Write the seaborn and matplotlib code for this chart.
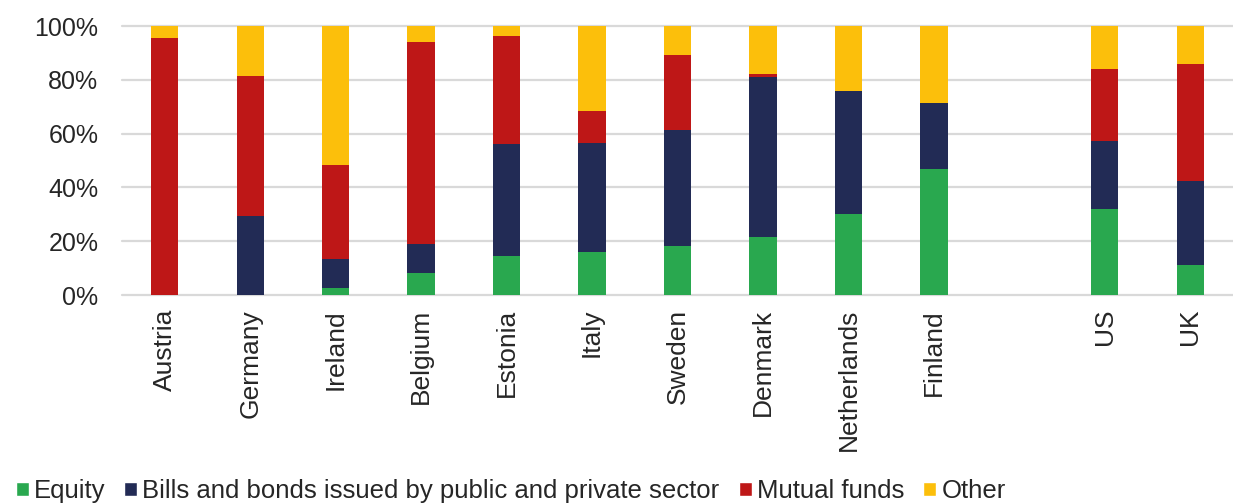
import matplotlib
matplotlib.use("Agg")
import matplotlib.pyplot as plt
from matplotlib.patches import Patch
from matplotlib.ticker import FuncFormatter
import seaborn as sns
import pandas as pd
import numpy as np

# data (shares in %)
countries = ["Austria", "Germany", "Ireland", "Belgium", "Estonia", "Italy", "Sweden",
             "Denmark", "Netherlands", "Finland", "", "US", "UK"]
equity = [0.0, 0.0, 2.5, 8.1, 14.4, 15.9, 18.1, 21.4, 30.3, 46.7, np.nan, 31.9, 11.0]
bonds = [0.0, 29.5, 10.8, 10.9, 41.8, 40.8, 43.4, 59.8, 45.4, 24.9, np.nan, 25.5, 31.4]
mutual = [95.7, 51.9, 35.1, 75.2, 40.2, 11.7, 27.7, 1.0, 0.0, 0.0, np.nan, 26.8, 43.6]
other = [4.3, 18.6, 51.6, 5.8, 3.6, 31.6, 10.8, 17.8, 24.3, 28.4, np.nan, 15.8, 14.0]

series = ["Equity", "Bills and bonds issued by public and private sector", "Mutual funds", "Other"]
colors = ["#29A84F", "#222B55", "#BE1717", "#FCBF0B"]

df = pd.DataFrame({"country": countries, "Equity": equity, series[1]: bonds,
                   "Mutual funds": mutual, "Other": other})

sns.set_theme(style="white")
plt.rcParams["font.family"] = ["Liberation Sans", "DejaVu Sans"]

fig = plt.figure(figsize=(12.33, 5.03), dpi=100)
ax = fig.add_axes([0.099, 0.4135, 0.901, 0.5345])

# stacked bars: draw cumulative totals from the top segment down
cum = df[series].cumsum(axis=1)
for i in range(len(series) - 1, -1, -1):
    sns.barplot(x=df["country"], y=cum[series[i]], order=countries, color=colors[i],
                width=0.32, ax=ax, saturation=1, edgecolor="none", linewidth=0)

ax.set_ylim(0, 100)
ax.set_xlim(-0.5, len(countries) - 0.5)
ax.set_yticks([0, 20, 40, 60, 80, 100])
ax.yaxis.set_major_formatter(FuncFormatter(lambda v, p: f"{v:.0f}%"))
ax.set_xlabel("")
ax.set_ylabel("")
ax.set_axisbelow(True)
ax.grid(axis="y", color="#D9D9D9", linewidth=1.6)
for line in ax.get_ygridlines():
    line.set_clip_on(False)
for s in ax.spines.values():
    s.set_visible(False)
ax.tick_params(axis="y", length=0, pad=17, labelsize=18)
ax.tick_params(axis="x", length=0, pad=10, labelsize=19)
plt.setp(ax.get_xticklabels(), rotation=90)

handles = [Patch(facecolor=c, label=l) for c, l in zip(colors, series)]
fig.legend(handles=handles, loc="lower left", bbox_to_anchor=(-0.006, -0.046), ncol=4,
           frameon=False, fontsize=18.5, handlelength=0.5, handleheight=0.5,
           handletextpad=0.2, columnspacing=0.75)

fig.savefig("out.png", dpi=100)
